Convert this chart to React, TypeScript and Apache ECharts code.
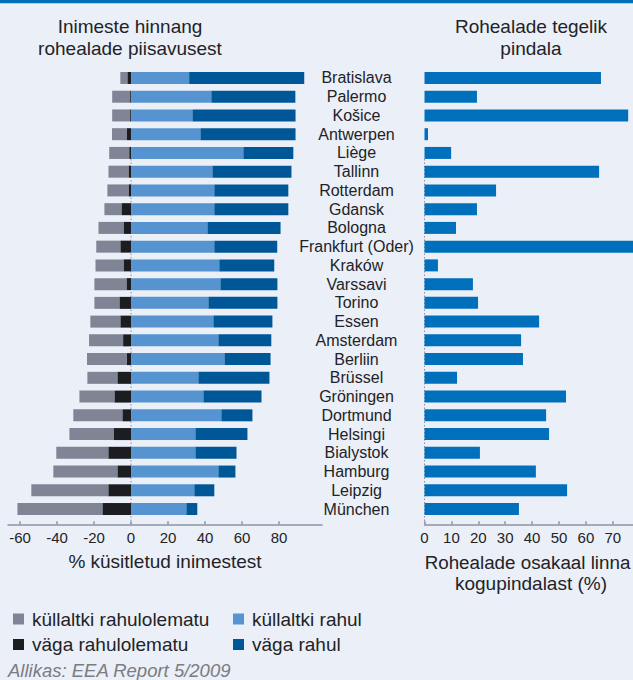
import React, { useEffect, useRef } from "react";
import * as echarts from "echarts";

const cities = [
  "Bratislava", "Palermo", "Košice", "Antwerpen", "Liège", "Tallinn", "Rotterdam", "Gdansk",
  "Bologna", "Frankfurt (Oder)", "Kraków", "Varssavi", "Torino", "Essen", "Amsterdam", "Berliin",
  "Brüssel", "Gröningen", "Dortmund", "Helsingi", "Bialystok", "Hamburg", "Leipzig", "München",
];

// % of respondents (unsatisfied shares are plotted to the left of zero)
const fairlyUnsatisfied = [3.8, 9.7, 9.7, 8.1, 10.8, 10.8, 11.4, 9.2, 13.5, 13, 15.1, 17.3, 13.5, 16.2, 18.4, 21.6, 16.2, 18.9, 26.5, 23.8, 28.1, 34.6, 41.6, 45.9];
const veryUnsatisfied = [2, 0.5, 0.5, 2.2, 1, 1.4, 1.4, 5.2, 4.1, 5.8, 4.1, 2.5, 6.3, 5.8, 4.3, 2.2, 7.4, 9, 4.7, 9.5, 12.3, 7.4, 12.3, 15.5];
const fairlySatisfied = [31.4, 43.4, 33.2, 37.5, 60.7, 44, 45, 45, 41.3, 45, 47.7, 48.3, 41.8, 44.5, 47.2, 50.5, 36.4, 39.1, 48.8, 34.8, 34.8, 47.2, 34.2, 29.9];
const verySatisfied = [62.2, 45.4, 55.7, 51.4, 27, 42.7, 40, 40, 39.5, 34, 29.7, 30.8, 37.3, 31.9, 28.6, 24.9, 38.4, 31.4, 16.8, 28.1, 22.2, 9.2, 10.8, 5.9];

// share of green areas in total city area (%)
const greenShare = [65.6, 19.5, 75.7, 1.3, 9.9, 64.9, 26.6, 19.5, 11.7, 84, 5, 18, 19.9, 42.6, 35.9, 36.6, 12.1, 52.6, 45.2, 46.3, 20.6, 41.4, 53, 35.1];

const leftTicks = [-60, -40, -20, 0, 20, 40, 60, 80];
const rightTicks = [0, 10, 20, 30, 40, 50, 60, 70];

const names = {
  fu: "küllaltki rahulolematu",
  vu: "väga rahulolematu",
  fs: "küllaltki rahul",
  vs: "väga rahul",
};

const FONT = "'Liberation Sans', Arial, Helvetica, sans-serif";
const TXT = "#222326";
const AXIS = "#8f93a3";
const BG = "#ebeff8";

export default function App() {
  const ref = useRef<HTMLDivElement>(null);

  useEffect(() => {
    if (!ref.current) return;
    const chart = echarts.init(ref.current, null, { renderer: "svg", width: 633, height: 680 });

    const text = (id: string, t: string, x: number, y: number, size: number, align = "center", extra: any = {}) => ({
      type: "text",
      id,
      x,
      y,
      silent: true,
      style: {
        text: t,
        fontSize: size,
        fontFamily: FONT,
        fill: TXT,
        textAlign: align,
        textVerticalAlign: "middle",
        ...extra,
      },
    });

    const graphics: any[] = [
      { type: "rect", id: "topbar", shape: { x: 0, y: 0, width: 633, height: 3.3 }, style: { fill: "#0070bc" }, silent: true },
      text("t1a", "Inimeste hinnang", 130, 26, 19),
      text("t1b", "rohealade piisavusest", 130, 48, 19),
      text("t2a", "Rohealade tegelik", 531, 26, 19),
      text("t2b", "pindala", 531, 48, 19),
      text("xl", "% küsitletud inimestest", 165, 561, 19),
      text("xr1", "Rohealade osakaal linna", 527.5, 562, 18.8),
      text("xr2", "kogupindalast (%)", 531, 583, 19),
      text("src", "Allikas: EEA Report 5/2009", 8, 670, 18.5, "left", { fill: "#7b7c80", fontStyle: "italic" }),
    ];

    const barBase = { type: "bar", barWidth: 12, stack: "L", xAxisIndex: 0, yAxisIndex: 0, z: 2 };

    const option: any = {
      animation: false,
      backgroundColor: BG,
      textStyle: { fontFamily: FONT },
      grid: [
        { left: 8, top: 68.6, width: 314, height: 449.8, containLabel: false },
        { left: 424.5, top: 68.6, width: 208.5, height: 449.8, containLabel: false },
      ],
      xAxis: [
        {
          type: "value",
          gridIndex: 0,
          min: -66.5,
          max: 103.2,
          offset: 5.9,
          splitLine: { show: false },
          axisLine: { show: true, lineStyle: { color: AXIS, width: 1.5 } },
          axisTick: { show: true, inside: true, length: 3, customValues: leftTicks, lineStyle: { color: AXIS, width: 1.5 } },
          axisLabel: { customValues: leftTicks, fontSize: 15, color: TXT, margin: 6, fontFamily: FONT },
        },
        {
          type: "value",
          gridIndex: 1,
          min: 0,
          max: 77.5,
          offset: 5.9,
          splitLine: { show: false },
          axisLine: { show: true, lineStyle: { color: AXIS, width: 1.5 } },
          axisTick: { show: true, inside: true, length: 3, customValues: rightTicks, lineStyle: { color: AXIS, width: 1.5 } },
          axisLabel: { customValues: rightTicks, fontSize: 15, color: TXT, margin: 6, fontFamily: FONT },
        },
      ],
      yAxis: [
        {
          type: "category",
          gridIndex: 0,
          data: cities,
          inverse: true,
          axisLine: { show: false },
          axisTick: { show: false },
          axisLabel: { show: false },
        },
        {
          type: "category",
          gridIndex: 1,
          data: cities,
          inverse: true,
          axisLine: { show: false },
          axisTick: { show: false },
          axisLabel: { show: true, interval: 0, align: "center", margin: 68, fontSize: 16, color: TXT, fontFamily: FONT },
        },
      ],
      legend: [
        {
          left: 8,
          top: 604.5,
          orient: "vertical",
          icon: "rect",
          itemWidth: 11,
          itemHeight: 11,
          itemGap: 6.5,
          selectedMode: false,
          data: [names.fu, names.vu],
          textStyle: { fontSize: 19, lineHeight: 19, color: TXT, fontFamily: FONT, padding: [0, 0, 0, 3] },
        },
        {
          left: 228,
          top: 604.5,
          orient: "vertical",
          icon: "rect",
          itemWidth: 11,
          itemHeight: 11,
          itemGap: 6.5,
          selectedMode: false,
          data: [names.fs, names.vs],
          textStyle: { fontSize: 19, lineHeight: 19, color: TXT, fontFamily: FONT, padding: [0, 0, 0, 3] },
        },
      ],
      series: [
        { ...barBase, name: names.vu, data: veryUnsatisfied.map((v) => -v), itemStyle: { color: "#1c1d21" } },
        { ...barBase, name: names.fu, data: fairlyUnsatisfied.map((v) => -v), itemStyle: { color: "#808596" } },
        { ...barBase, name: names.fs, data: fairlySatisfied, itemStyle: { color: "#5594d0" } },
        { ...barBase, name: names.vs, data: verySatisfied, itemStyle: { color: "#005797" } },
        {
          type: "bar",
          name: "Rohealade osakaal",
          xAxisIndex: 1,
          yAxisIndex: 1,
          barWidth: 12,
          clip: true,
          data: greenShare,
          itemStyle: { color: "#0070bc" },
          z: 2,
        },
      ],
      graphic: { elements: graphics },
    };

    chart.setOption(option);

    const x0 = chart.convertToPixel({ xAxisIndex: 0 }, 0) as number;
    const x1 = chart.convertToPixel({ xAxisIndex: 1 }, 0) as number;
    const dotted = (id: string, x: number) => ({
      type: "line",
      id,
      z: 1,
      silent: true,
      shape: { x1: x, y1: 159, x2: x, y2: 524 },
      style: { stroke: "#8a90a8", lineWidth: 1, lineDash: [1.5, 2] },
    });
    option.graphic = { elements: [...graphics, dotted("z0", x0), dotted("z1", x1)] };
    chart.setOption(option, true);

    return () => chart.dispose();
  }, []);

  return (
    <div
      ref={ref}
      style={{ position: "absolute", left: 0, top: 0, width: 633, height: 680, background: BG, overflow: "hidden" }}
    />
  );
}
